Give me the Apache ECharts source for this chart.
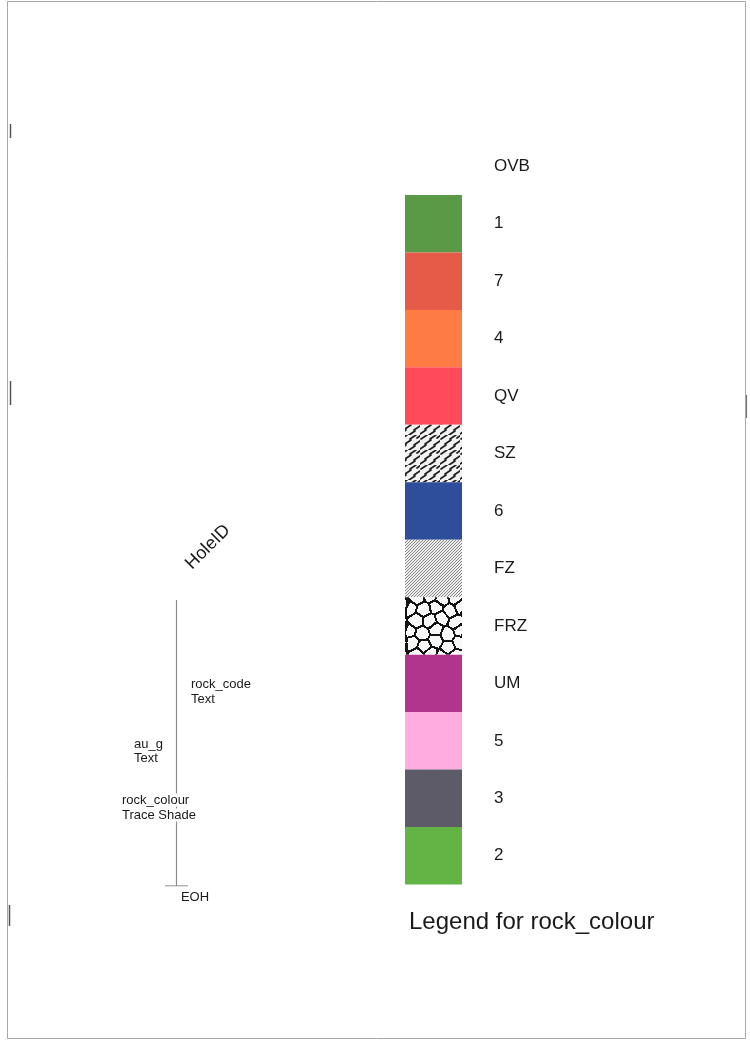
<!DOCTYPE html>
<html><head><meta charset="utf-8">
<script src="https://cdn.jsdelivr.net/npm/echarts@6/dist/echarts.min.js"></script>
<style>html,body{margin:0;padding:0;background:#fff}#c{width:750px;height:1041px}</style>
</head><body><div id="c"></div>
<script>
// ---- data ----
const categories = ['OVB','1','7','4','QV','SZ','6','FZ','FRZ','UM','5','3','2'];
const swatchValues = ['-',1,1,1,1,1,1,1,1,1,1,1,1];
const swatchFills = ['none','#5a9a46','#e65a48','#ff7b44','#ff4a5a','SZ','#2e4e9c','FZ','FRZ','#b1358c','#ffade0','#5d5b68','#63b444'];
const holeTrace = [[0,0],[0,1]];
const eohTick = [[-1,1],[1,1]];
const titleText = 'Legend for rock_colour';

// ---- patterns ----
function mk(w,h){const c=document.createElement('canvas');c.width=w;c.height=h;return c;}
function szPattern(){
  const c=mk(20,15),g=c.getContext('2d');
  g.fillStyle='#f2f2f2';g.fillRect(0,0,20,15);
  g.strokeStyle='#1e1e1e';g.lineWidth=1.7;g.lineCap='round';
  const d=[[1,4,7,0],[10,4,16,0],[5,9,11,5],[14,10,20,6],[0,14,6,10],[9,15,15,11],[17,3,21,0]];
  d.forEach(s=>{g.beginPath();g.moveTo(s[0],s[1]);g.lineTo(s[2],s[3]);g.stroke();});
  return c;
}
function fzPattern(){
  const c=mk(12,12),g=c.getContext('2d');
  g.fillStyle='#ececec';g.fillRect(0,0,12,12);
  g.strokeStyle='#777';g.lineWidth=0.85;
  for(let k=-12;k<=24;k+=3){g.beginPath();g.moveTo(k,12);g.lineTo(k+12,0);g.stroke();}
  return c;
}
function frzPattern(){
  const W=58,H=58,c=mk(W,H),g=c.getContext('2d');
  const seeds=[[5,4],[18,8],[29,2],[42,9],[53,4],[11,17],[24,15],[35,19],[49,17],[3,28],[17,29],[30,26],[43,31],[55,26],[10,40],[23,41],[36,37],[49,42],[2,51],[16,53],[29,49],[41,54],[54,50]];
  const img=g.createImageData(W,H);
  for(let y=0;y<H;y++)for(let x=0;x<W;x++){
    let d1=1e9,d2=1e9;
    for(const s of seeds)for(let ox=-1;ox<=1;ox++)for(let oy=-1;oy<=1;oy++){
      const dx=x-(s[0]+ox*W),dy=y-(s[1]+oy*H),d=Math.sqrt(dx*dx+dy*dy);
      if(d<d1){d2=d1;d1=d;}else if(d<d2){d2=d;}
    }
    const i=(y*W+x)*4,v=(d2-d1)<2.0?20:248;
    img.data[i]=v;img.data[i+1]=v;img.data[i+2]=v;img.data[i+3]=255;
  }
  g.putImageData(img,0,0);
  return c;
}
const patterns={SZ:szPattern(),FZ:fzPattern(),FRZ:frzPattern()};
function fillOf(f){return patterns[f]?{image:patterns[f],repeat:'repeat'}:f;}

const chart=echarts.init(document.getElementById('c'),null,{renderer:'canvas'});
const F='"Liberation Sans", Arial, sans-serif';
const smallText=(t,x,y,align,bg)=>({type:'text',x:x,y:y,z:10,style:{text:t,font:'13px '+F,fill:'#1a1a1a',align:align||'left',verticalAlign:'middle',backgroundColor:bg||'transparent'}});

chart.setOption({
  animation:false,
  backgroundColor:'#fff',
  grid:[
    {left:405,width:57,top:137.5,height:747},
    {left:165,width:23,top:600,height:286}
  ],
  xAxis:[
    {gridIndex:0,type:'value',min:0,max:1,show:false},
    {gridIndex:1,type:'value',min:-1,max:1,show:false}
  ],
  yAxis:[
    {gridIndex:0,type:'category',data:categories,inverse:true,position:'right',
     axisLine:{show:false},axisTick:{show:false},splitLine:{show:false},
     axisLabel:{margin:32,color:'#1a1a1a',fontSize:17,fontFamily:'Liberation Sans, Arial',lineHeight:22,padding:[0,0,4,0]}},
    {gridIndex:1,type:'value',min:0,max:1,inverse:true,show:false}
  ],
  series:[
    {type:'bar',xAxisIndex:0,yAxisIndex:0,barWidth:'100%',barGap:'0%',
     data:swatchValues.map((v,i)=>({value:v,itemStyle:{color:fillOf(swatchFills[i])}}))},
    {type:'line',xAxisIndex:1,yAxisIndex:1,data:holeTrace,symbol:'none',lineStyle:{color:'#8c8c8c',width:1.2}},
    {type:'line',xAxisIndex:1,yAxisIndex:1,data:eohTick,symbol:'none',lineStyle:{color:'#707070',width:1.2}}
  ],
  graphic:[
    {type:'rect',shape:{x:7.5,y:1.5,width:738,height:1037},style:{fill:'none',stroke:'#a8a8a8',lineWidth:1}},
    {type:'line',shape:{x1:10.5,y1:124,x2:10.5,y2:138},style:{stroke:'#555',lineWidth:1.5}},
    {type:'line',shape:{x1:10.5,y1:381,x2:10.5,y2:405},style:{stroke:'#555',lineWidth:1.5}},
    {type:'line',shape:{x1:9.5,y1:905,x2:9.5,y2:926},style:{stroke:'#555',lineWidth:1.5}},
    {type:'line',shape:{x1:746.5,y1:395,x2:746.5,y2:418},style:{stroke:'#777',lineWidth:1.2}},
    {type:'text',x:208,y:547,rotation:Math.PI/4,style:{text:'HoleID',font:'18px '+F,fill:'#1a1a1a',align:'center',verticalAlign:'middle'}},
    smallText('rock_code',191,684),
    smallText('Text',191,699),
    smallText('au_g',134,744),
    smallText('Text',134,758),
    smallText('rock_colour',122,800,'left','#fff'),
    smallText('Trace Shade',122,815,'left','#fff'),
    smallText('EOH',195,897,'center'),
    {type:'text',x:409,y:922,style:{text:titleText,font:'24px '+F,fill:'#1a1a1a',align:'left',verticalAlign:'middle'}}
  ]
});
</script></body></html>
